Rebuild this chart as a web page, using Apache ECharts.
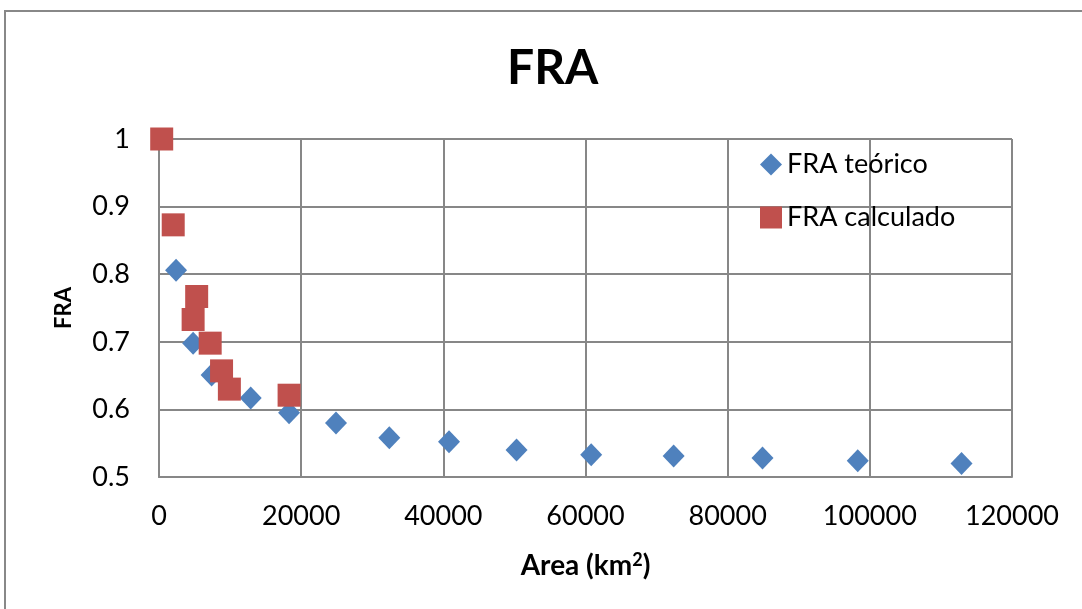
<!DOCTYPE html>
<html>
<head>
<meta charset="utf-8">
<title>FRA</title>
<script src="https://cdn.jsdelivr.net/npm/echarts@6/dist/echarts.min.js"></script>
<style>
  html, body { margin: 0; padding: 0; background: #fff; }
  #chart { width: 1082px; height: 609px; }
</style>
</head>
<body>
<div id="chart"></div>
<script>
  // FRA teórico
  var teoricoArea = [2400, 4800, 7400, 12900, 18300, 24900, 32400, 40800, 50300, 60800, 72400, 84900, 98300, 112900]
  var teoricoFra = [0.806, 0.698, 0.651, 0.617, 0.595, 0.580, 0.558, 0.552, 0.540, 0.533, 0.531, 0.528, 0.524, 0.520]
  // FRA calculado
  var calcArea = [380, 2000, 5300, 4800, 7200, 8800, 9900, 18300]
  var calcFra = [1.0, 0.873, 0.767, 0.733, 0.698, 0.657, 0.630, 0.621]

  var font = 'Lato, "Open Sans", sans-serif'
  var gridColor = '#878787'

  function pairs (xs, ys) {
    var out = []
    for (var i = 0; i < xs.length; i++) out.push([xs[i], ys[i]])
    return out
  }

  var myChart = echarts.init(document.getElementById('chart'))
  myChart.setOption({
    animation: false,
    textStyle: { fontFamily: font },
    title: {
      text: 'FRA',
      left: 502,
      top: 40,
      textStyle: { fontSize: 48, fontWeight: 'bold', color: '#000', fontFamily: font }
    },
    graphic: [{
      type: 'rect',
      shape: { x: 5, y: 11, width: 1100, height: 620 },
      style: { fill: 'none', stroke: '#888', lineWidth: 2 }
    }],
    legend: {
      orient: 'vertical',
      left: 755,
      top: 146,
      itemWidth: 22,
      itemHeight: 22,
      itemGap: 26,
      textStyle: { fontSize: 27, color: '#000', fontFamily: font },
      data: ['FRA teórico', 'FRA calculado']
    },
    grid: { left: 159, top: 139, right: 70, bottom: 132 },
    xAxis: {
      type: 'value',
      min: 0,
      max: 120000,
      interval: 20000,
      name: 'Area (km{sup|2})',
      nameLocation: 'middle',
      nameGap: 74,
      nameTextStyle: {
        fontSize: 28, fontWeight: 'bold', color: '#000', fontFamily: font,
        rich: { sup: { fontSize: 18, fontWeight: 'bold', fontFamily: font, verticalAlign: 'top', padding: [0, 0, 12, 0] } }
      },
      axisLine: { show: true, lineStyle: { color: gridColor, width: 2 } },
      axisTick: { show: false },
      axisLabel: { fontSize: 27, color: '#000', margin: 26, formatter: function (v) { return String(v) } },
      splitLine: { show: true, lineStyle: { color: gridColor, width: 2 } }
    },
    yAxis: {
      type: 'value',
      min: 0.5,
      max: 1,
      interval: 0.1,
      name: 'FRA',
      nameLocation: 'middle',
      nameRotate: 90,
      nameGap: 84,
      nameTextStyle: { fontSize: 22, fontWeight: 'bold', color: '#000', fontFamily: font },
      axisLine: { show: true, lineStyle: { color: gridColor, width: 2 } },
      axisTick: { show: false },
      axisLabel: { fontSize: 27, color: '#000', margin: 29 },
      splitLine: { show: true, lineStyle: { color: gridColor, width: 2 } }
    },
    series: [{
      name: 'FRA teórico',
      type: 'scatter',
      symbol: 'diamond',
      symbolSize: [22, 23],
      itemStyle: { color: '#4F81BD', opacity: 1 },
      data: pairs(teoricoArea, teoricoFra)
    }, {
      name: 'FRA calculado',
      type: 'scatter',
      symbol: 'rect',
      symbolSize: 23,
      itemStyle: { color: '#C0504D', opacity: 1 },
      data: pairs(calcArea, calcFra)
    }]
  })
</script>
</body>
</html>
